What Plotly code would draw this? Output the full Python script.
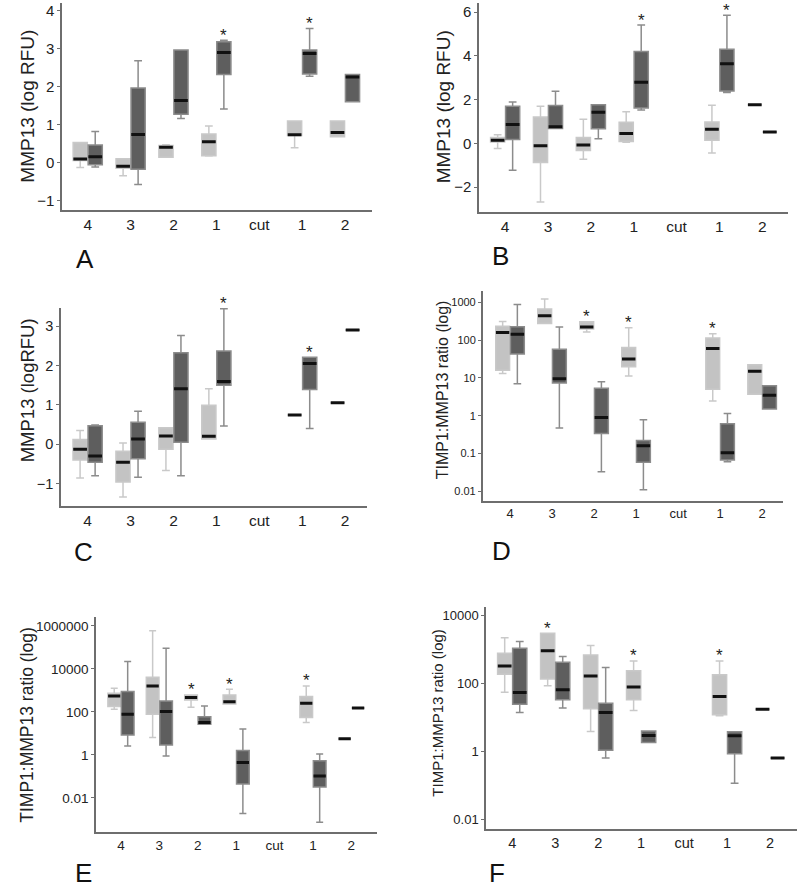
import math
import plotly.graph_objects as go

# ---------------- data ----------------
TICK_LABELS = ["4", "3", "2", "1", "cut", "1", "2"]

# each entry: (lower whisker, Q1, median, Q3, upper whisker); None = no box
A_LIGHT = [(-0.13, 0.05, 0.09, 0.53, 0.53), (-0.35, -0.15, -0.10, 0.10, 0.10),
           (0.14, 0.14, 0.40, 0.45, 0.47), (0.17, 0.18, 0.55, 0.75, 0.96), None,
           (0.39, 0.71, 0.73, 1.09, 1.09), (0.68, 0.68, 0.79, 1.09, 1.09)]
A_DARK = [(-0.12, -0.06, 0.15, 0.46, 0.82), (-0.58, -0.18, 0.74, 1.96, 2.68),
          (1.16, 1.27, 1.63, 2.96, 2.96), (1.41, 2.32, 2.90, 3.18, 3.22), None,
          (2.27, 2.33, 2.87, 2.96, 3.53), (1.60, 1.60, 2.25, 2.32, 2.32)]
A_STARS = [(3, "dark"), (5, "dark")]

B_LIGHT = [(-0.23, 0.06, 0.14, 0.27, 0.39), (-2.68, -0.88, -0.11, 1.20, 1.70),
           (-0.73, -0.33, -0.08, 0.27, 1.10), (0.05, 0.08, 0.45, 0.97, 1.44), None,
           (-0.44, 0.14, 0.65, 0.98, 1.74), (1.77, 1.77, 1.77, 1.77, 1.77)]
B_DARK = [(-1.23, 0.18, 0.86, 1.70, 1.89), (0.68, 0.68, 0.76, 1.73, 2.38),
          (0.21, 0.67, 1.42, 1.77, 1.77), (1.53, 1.62, 2.79, 4.20, 5.41), None,
          (2.33, 2.39, 3.64, 4.30, 5.86), (0.52, 0.52, 0.52, 0.52, 0.52)]
B_STARS = [(3, "dark"), (5, "dark")]

C_LIGHT = [(-0.86, -0.40, -0.13, 0.12, 0.35), (-1.34, -0.96, -0.46, -0.18, 0.03),
           (-0.67, -0.13, 0.21, 0.42, 0.42), (0.13, 0.13, 0.20, 0.99, 1.41), None,
           (0.74, 0.74, 0.74, 0.74, 0.74), (1.05, 1.05, 1.05, 1.05, 1.05)]
C_DARK = [(-0.80, -0.46, -0.30, 0.47, 0.49), (-0.84, -0.37, 0.13, 0.56, 0.84),
          (-0.80, 0.05, 1.41, 2.32, 2.76), (0.46, 1.50, 1.59, 2.37, 3.44), None,
          (0.40, 1.39, 2.05, 2.21, 2.21), (2.90, 2.90, 2.90, 2.90, 2.90)]
C_STARS = [(3, "dark"), (5, "dark")]

D_LIGHT = [(13, 16, 160, 234, 309), (277, 277, 443, 665, 1230),
           (163, 196, 224, 307, 307), (11.2, 19.8, 31.6, 64, 212), None,
           (2.44, 5.0, 60, 113, 148), (3.7, 3.7, 15, 22.4, 22.4)]
D_DARK = [(7, 43, 142, 225, 870), (0.47, 7.3, 9.5, 57, 222),
          (0.033, 0.34, 0.89, 5.3, 7.9), (0.011, 0.059, 0.16, 0.22, 0.78), None,
          (0.06, 0.067, 0.105, 0.61, 1.15), (1.5, 1.5, 3.45, 6.2, 6.2)]
D_STARS = [(2, "light"), (3, "light"), (5, "light")]

E_LIGHT = [(132, 178, 550, 740, 1260), (6.4, 78, 1620, 4100, 590000),
           (165, 360, 465, 620, 620), (235, 235, 300, 620, 1130), None,
           (32, 55, 253, 515, 1620), (5.7, 5.7, 5.7, 5.7, 5.7)]
E_DARK = [(2.6, 8.5, 78, 890, 21900), (0.9, 2.9, 105, 325, 91000),
          (27, 27, 32, 60, 190), (0.0019, 0.044, 0.44, 1.6, 16), None,
          (0.00074, 0.032, 0.105, 0.53, 1.1), (153, 153, 153, 153, 153)]
E_STARS = [(2, "light"), (3, "light"), (5, "light")]

F_LIGHT = [(55, 186, 324, 760, 2200), (85, 135, 910, 2950, 2950),
           (3.9, 18, 166, 680, 1290), (16, 33, 78, 234, 455), None,
           (11.2, 12, 41, 178, 455), (17.4, 17.4, 17.4, 17.4, 17.4)]
F_DARK = [(14, 24.5, 54, 1070, 1700), (19, 33, 65, 417, 617),
          (0.65, 1.1, 14, 26, 295), (1.86, 1.86, 2.95, 4.0, 4.0), None,
          (0.118, 0.87, 2.9, 3.8, 3.8), (0.65, 0.65, 0.65, 0.65, 0.65)]
F_STARS = [(1, "light"), (3, "light"), (5, "light")]

Y_TITLE_RFU = "MMP13 (log RFU)"
Y_TITLE_RFU2 = "MMP13 (logRFU)"
Y_TITLE_RATIO = "TIMP1:MMP13 ratio (log)"

# ---------------- layout / style ----------------
W, H = 800, 890
FONT = "Liberation Sans, Arial, sans-serif"
LIGHT_FILL, LIGHT_LINE = "#c3c3c3", "#c9c9c9"
DARK_FILL, DARK_LINE = "#5e5e5e", "#8c8c8c"
AXIS_COL = "#6e6e6e"
OFF, BW = 0.175, 0.33

# lpos: (x, y, anchor) of the panel letter in pixels
PANELS = [
    dict(letter="A", light=A_LIGHT, dark=A_DARK, stars=A_STARS, log=False,
         box=(62, 3, 372, 210), xr=[-0.60, 6.63], yr=[-1.25, 4.2],
         yt=[-1, 0, 1, 2, 3, 4], ytt=None, yfs=15, xfs=15.5,
         title=Y_TITLE_RFU, tpos=(26.7, 106), tfs=19, lpos=(85, 259, "middle")),
    dict(letter="B", light=B_LIGHT, dark=B_DARK, stars=B_STARS, log=False,
         box=(479, 3, 788, 212), xr=[-0.61, 6.60], yr=[-3.14, 6.42],
         yt=[-2, 0, 2, 4, 6], ytt=None, yfs=15, xfs=15.5,
         title=Y_TITLE_RFU, tpos=(443.3, 107), tfs=19, lpos=(500, 256, "middle")),
    dict(letter="C", light=C_LIGHT, dark=C_DARK, stars=C_STARS, log=False,
         box=(61, 308, 367, 506), xr=[-0.62, 6.51], yr=[-1.57, 3.46],
         yt=[-1, 0, 1, 2, 3], ytt=None, yfs=14.5, xfs=15.5,
         title=Y_TITLE_RFU2, tpos=(28.3, 390), tfs=18.5, lpos=(83.3, 552, "middle")),
    dict(letter="D", light=D_LIGHT, dark=D_DARK, stars=D_STARS, log=True,
         box=(482.7, 291, 782.7, 500.7), xr=[-0.65, 6.49], yr=[-2.25, 3.30],
         yt=[0.01, 0.1, 1, 10, 100, 1000], ytt=["0.01", "0.1", "1", "10", "100", "1000"],
         yfs=11, xfs=13, title=Y_TITLE_RATIO, tpos=(443.3, 390), tfs=16,
         lpos=(501.7, 551, "middle")),
    dict(letter="E", light=E_LIGHT, dark=E_DARK, stars=E_STARS, log=True,
         box=(96, 616.7, 376.7, 832.3), xr=[-0.65, 6.66], yr=[-3.6, 6.43],
         yt=[0.01, 1, 100, 10000, 1000000], ytt=["0.01", "1", "100", "10000", "1000000"],
         yfs=13.5, xfs=13.5, title=Y_TITLE_RATIO, tpos=(26.7, 725), tfs=17.5,
         lpos=(83.3, 890, "bottom")),
    dict(letter="F", light=F_LIGHT, dark=F_DARK, stars=F_STARS, log=True,
         box=(486, 606.7, 796.7, 829.3), xr=[-0.61, 6.62], yr=[-2.28, 4.25],
         yt=[0.01, 1, 100, 10000], ytt=["0.01", "1", "100", "10000"],
         yfs=13, xfs=14.5, title=Y_TITLE_RATIO, tpos=(436.7, 713), tfs=15,
         lpos=(496.7, 890, "bottom")),
]

fig = go.Figure()
annotations = []
layout = dict(width=W, height=H, margin=dict(l=0, r=0, t=0, b=0),
              paper_bgcolor="white", plot_bgcolor="white", showlegend=False,
              font=dict(family=FONT, color="#222"), boxmode="overlay")

for k, p in enumerate(PANELS):
    n = "" if k == 0 else str(k + 1)
    xa, ya = "x" + n, "y" + n
    x0, y0, x1, y1 = p["box"]
    layout["xaxis" + n] = dict(
        domain=[x0 / W, x1 / W], range=p["xr"], anchor=ya,
        tickmode="array", tickvals=list(range(len(TICK_LABELS))), ticktext=TICK_LABELS,
        showline=True, linecolor=AXIS_COL, linewidth=1.5, showgrid=False, zeroline=False,
        ticks="", tickfont=dict(size=p["xfs"], family=FONT, color="#222"), fixedrange=True)
    yax = dict(
        domain=[1 - y1 / H, 1 - y0 / H], anchor=xa,
        showline=True, linecolor=AXIS_COL, linewidth=1.5, showgrid=False, zeroline=False,
        ticks="outside", ticklen=3, tickwidth=1, tickcolor=AXIS_COL,
        tickmode="array", tickvals=p["yt"],
        tickfont=dict(size=p["yfs"], family=FONT, color="#222"), fixedrange=True)
    if p["log"]:
        yax.update(type="log", range=p["yr"], ticktext=p["ytt"])
    else:
        yax.update(range=p["yr"])
    layout["yaxis" + n] = yax

    for key, off, fill, line in (("light", -OFF, LIGHT_FILL, LIGHT_LINE),
                                 ("dark", OFF, DARK_FILL, DARK_LINE)):
        xs, lo, q1, md, q3, hi = [], [], [], [], [], []
        for i, s in enumerate(p[key]):
            if s is None:
                continue
            xs.append(i + off)
            lo.append(s[0]); q1.append(s[1]); md.append(s[2]); q3.append(s[3]); hi.append(s[4])
        fig.add_trace(go.Box(x=xs, lowerfence=lo, q1=q1, median=md, q3=q3, upperfence=hi,
                             xaxis=xa, yaxis=ya, width=BW, fillcolor=fill,
                             line=dict(color=line, width=1.5), whiskerwidth=0.55,
                             boxpoints=False, hoverinfo="skip", showlegend=False))
        fig.add_trace(go.Box(x=xs, lowerfence=md, q1=md, median=md, q3=md, upperfence=md,
                             xaxis=xa, yaxis=ya, width=BW * 0.97, fillcolor="#111",
                             line=dict(color="#111", width=3), whiskerwidth=0,
                             boxpoints=False, hoverinfo="skip", showlegend=False))

    for (i, key) in p["stars"]:
        off = -OFF if key == "light" else OFF
        top = p[key][i][4]
        annotations.append(dict(
            x=i + off, y=math.log10(top) if p["log"] else top, xref=xa, yref=ya,
            text="*", showarrow=False, yanchor="middle", yshift=5,
            font=dict(size=17, family=FONT, color="#222")))

    tx, ty = p["tpos"]
    annotations.append(dict(x=tx / W, y=1 - ty / H, xref="paper", yref="paper",
                            text=p["title"], textangle=-90, showarrow=False,
                            xanchor="center", yanchor="middle",
                            font=dict(size=p["tfs"], family=FONT, color="#222")))
    lx, ly, lanchor = p["lpos"]
    annotations.append(dict(x=lx / W, y=1 - ly / H, xref="paper", yref="paper",
                            text=p["letter"], showarrow=False,
                            xanchor="center", yanchor=lanchor,
                            font=dict(size=26, family=FONT, color="#111")))

layout["annotations"] = annotations
fig.update_layout(**layout)
fig.write_html("out.html", config={"displayModeBar": False},
               post_script="document.body.style.margin='0';")
